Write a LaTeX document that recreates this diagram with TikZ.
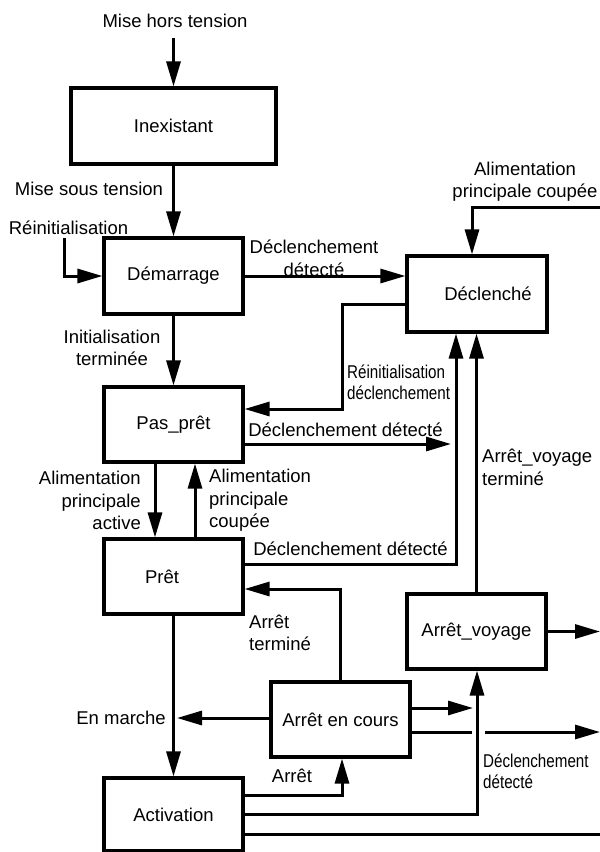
\documentclass[tikz,border=0pt]{standalone}
\usepackage{fontspec}
\setmainfont{Liberation Sans}
\newfontfamily\narrowfam[FakeStretch=0.82]{Liberation Sans}
\usetikzlibrary{arrows.meta,calc}
\newcommand\diafont{\fontsize{18.5}{22.5}\selectfont}
\newcommand\narfont{\narrowfam\fontsize{18.5}{21}\selectfont}
\begin{document}
\begin{tikzpicture}[x=1pt,y=-1pt,
  box/.style={draw, line width=3.1pt, inner sep=0pt, font=\diafont, minimum height=76pt, minimum width=139pt},
  arr/.style={line width=3pt, -{Triangle[length=25pt,width=14pt]}},
  ln/.style={line width=3pt},
  lbl/.style={inner sep=0pt, font=\diafont},
  nlbl/.style={inner sep=0pt, font=\narfont, align=left}]
\useasboundingbox (0,0) rectangle (600,852);

% boxes
\node[box, minimum width=205pt] (inex) at (173.5,126) {Inexistant};
\node[box] (dem) at (173.5,276) {Démarrage};
\node[box, minimum height=75pt] (pas) at (173.5,424.5) {Pas\_prêt};
\node[box, minimum height=75pt] (pret) at (173.5,576.5) {Prêt\hspace*{23pt}};
\node[box, minimum height=73pt] (act) at (173.5,814.5) {Activation};
\node[box, minimum width=140pt] (decl) at (477,294) {\hspace*{22pt}Déclenché};
\node[box, minimum height=75pt] (av) at (476.5,631.5) {Arrêt\_voyage};
\node[box, minimum height=75pt] (aec) at (340.5,719.5) {Arrêt en cours};

% Mise hors tension
\node[lbl] (l1) at (175,21) {Mise hors tension};
\coordinate (s1) at (173.5,38);
\draw[arr] (s1) -- (inex.north);

% Mise sous tension
\draw[arr] (inex.south) -- (dem.north);
\node[lbl] (l2) at (89,189) {Mise sous tension};

% Reinitialisation
\node[lbl] (l3) at (68.5,228) {Réinitialisation};
\coordinate (s2) at (64,238);
\draw[arr] (s2) |- (dem.west);

% Initialisation terminee
\draw[arr] (dem.south) -- (pas.north);
\node[lbl, align=center] (l4) at (112,348) {Initialisation\\terminée};

% Demarrage -> Declenche
\draw[arr] (dem.east) -- (dem.east -| decl.west);
\node[lbl, align=center] (l5) at (314,258.5) {Déclenchement\\détecté};

% Alimentation principale coupee (top right)
\coordinate (s3) at (600,207);
\coordinate (k3) at (472,207);
\draw[arr] (s3) -- (k3) -- (k3 |- decl.north);
\node[lbl, align=center] (l6) at (525,181.5) {Alimentation\\principale coupée};

% Declenche -> Pas_pret
\coordinate (k4) at (342,409);
\draw[arr] ($(decl.west)+(0,10)$) -| (k4) -- (k4 -| pas.east);
\node[nlbl, anchor=west] (l7) at (347,382) {Réinitialisation\\déclenchement};

% Pas_pret -> line
\coordinate (e8) at (451,444);
\draw[arr] (e8 -| pas.east) -- (e8);
\node[lbl] (l8) at (345.5,430) {Déclenchement détecté};

% Pas_pret <-> Pret
\coordinate (xa) at (155,0);
\coordinate (xb) at (195,0);
\draw[arr] (pas.south -| xa) -- (pret.north -| xa);
\draw[arr] (pret.north -| xb) -- (pas.south -| xb);
\node[lbl, align=right, anchor=east] (l9) at (141,500.5) {Alimentation\\principale\\active};
\node[lbl, align=left, anchor=west] (l10) at (209,500.5) {Alimentation\\principale\\coupée};

% Pret -> Declenche
\coordinate (k11) at (456,564);
\draw[arr] (k11 -| pret.east) -- (k11) -- (k11 |- decl.south);
\node[lbl] (l11) at (350.5,549) {Déclenchement détecté};

% Arret_voyage -> Declenche
\draw[arr] (av.north) -- (av.north |- decl.south);
\node[lbl, align=left, anchor=west] (l12) at (482,467.5) {Arrêt\_voyage\\terminé};

% Arret_voyage -> right
\coordinate (e13) at (600,0);
\draw[arr] (av.east) -- (av.east -| e13);

% Arret en cours -> Pret
\coordinate (k14) at (340,589);
\draw[arr] (aec.north -| k14) -- (k14) -- (k14 -| pret.east);
\node[lbl, align=left, anchor=west] (l14) at (249,633) {Arrêt\\terminé};

% Arret en cours -> En marche
\coordinate (e15) at (177,718);
\draw[arr] (e15 -| aec.west) -- (e15);
\node[lbl, anchor=east] (l15) at (166,718) {En marche};

% Arret en cours -> right
\coordinate (e16) at (473,708);
\draw[arr] (e16 -| aec.east) -- (e16);
\coordinate (g1) at (472,732);
\coordinate (g2) at (485,732);
\coordinate (e17) at (600,732);
\draw[ln] (g1 -| aec.east) -- (g1);
\draw[arr] (g2) -- (e17);

% Activation -> Arret en cours
\coordinate (k18) at (342,795);
\draw[arr] (k18 -| act.east) -- (k18) -- (k18 |- aec.south);
\node[lbl] (l18) at (292,776) {Arrêt};

% Activation -> Arret_voyage
\coordinate (k19) at (477,814);
\draw[arr] (k19 -| act.east) -- (k19) -- (k19 |- av.south);
\node[nlbl, anchor=west] (l19) at (483,771) {Déclenchement\\détecté};

% Activation -> right
\coordinate (e20) at (600,834);
\draw[ln] (e20 -| act.east) -- (e20);

% Pret -> Activation
\draw[arr] (pret.south) -- (act.north);
\end{tikzpicture}
\end{document}
